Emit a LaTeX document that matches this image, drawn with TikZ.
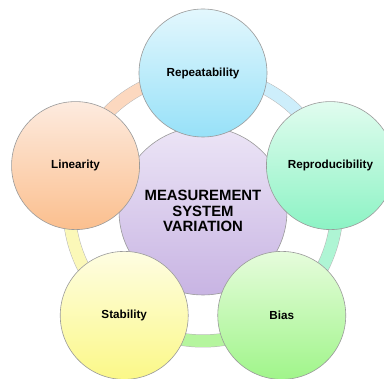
\documentclass[tikz,border=0pt]{standalone}
\usepackage{fontspec}
\setmainfont{Liberation Sans}
\usetikzlibrary{backgrounds}
\definecolor{repT}{HTML}{E3F7FD}\definecolor{repB}{HTML}{97E1F8}
\definecolor{proT}{HTML}{E1FCEF}\definecolor{proB}{HTML}{8CF3C4}
\definecolor{biaT}{HTML}{E6FCDC}\definecolor{biaB}{HTML}{A0F58A}
\definecolor{staT}{HTML}{FEFDE2}\definecolor{staB}{HTML}{FBF888}
\definecolor{linT}{HTML}{FDEBDF}\definecolor{linB}{HTML}{FBBF8E}
\definecolor{cenT}{HTML}{ECE5F6}\definecolor{cenB}{HTML}{C8B4E3}
\definecolor{ringA}{HTML}{CDEEFB}\definecolor{ringB}{HTML}{AEF5D4}
\definecolor{ringC}{HTML}{B5F59E}\definecolor{ringD}{HTML}{FBF8B8}
\definecolor{ringE}{HTML}{FCD8BF}
\definecolor{edge}{HTML}{9A9A9A}
\tikzset{
  outer/.style={circle, draw=edge, line width=0.6pt, minimum size=128pt, inner sep=0pt,
    font=\fontsize{11.7}{14}\selectfont\bfseries},
  band/.style={draw=edge!70, line width=0.5pt, double distance=12pt, double=#1},
}
\begin{document}
\begin{tikzpicture}[x=1pt,y=1pt]
\clip (-203,-172) rectangle (181,207);
\node[circle, draw=edge, line width=0.6pt, minimum size=168pt, inner sep=0pt,
  top color=cenT, bottom color=cenB, align=center,
  font=\fontsize{14.9}{15.7}\selectfont\bfseries] (msv) at (0,-4)
  {MEASUREMENT\\SYSTEM\\VARIATION};
\node[outer, top color=repT, bottom color=repB] (rep) at (90:134) {Repeatability};
\node[outer, top color=proT, bottom color=proB] (pro) at (18:134) {Reproducibility};
\node[outer, top color=biaT, bottom color=biaB] (bia) at (-54:134) {Bias};
\node[outer, top color=staT, bottom color=staB] (sta) at (-126:134) {Stability};
\node[outer, top color=linT, bottom color=linB] (lin) at (162:134) {Linearity};
\begin{scope}[on background layer]
\fill[white] (-203,-172) rectangle (181,207);
\draw[band=ringA] (rep.center) arc[start angle=90, end angle=18, radius=134];
\draw[band=ringB] (pro.center) arc[start angle=18, end angle=-54, radius=134];
\draw[band=ringC] (bia.center) arc[start angle=-54, end angle=-126, radius=134];
\draw[band=ringD] (sta.center) arc[start angle=-126, end angle=-198, radius=134];
\draw[band=ringE] (lin.center) arc[start angle=162, end angle=90, radius=134];
\end{scope}
\end{tikzpicture}
\end{document}
